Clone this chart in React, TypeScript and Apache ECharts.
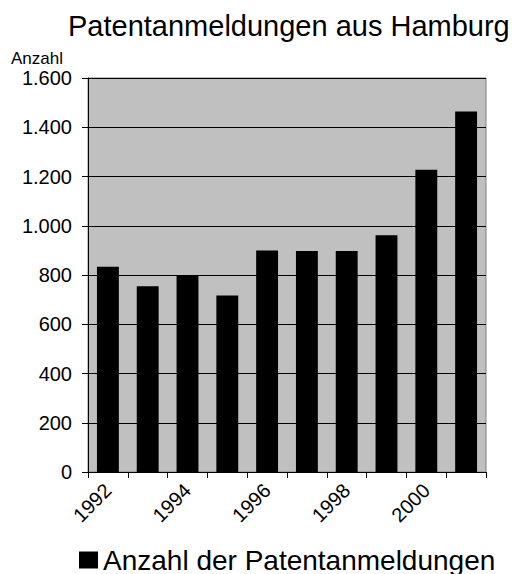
import React, { useEffect, useRef } from "react";
import * as echarts from "echarts";

const years = ["1992", "1993", "1994", "1995", "1996", "1997", "1998", "1999", "2000", "2001"];
const patentCounts = [833, 754, 797, 717, 900, 897, 897, 961, 1227, 1464];
const seriesName = "Anzahl der Patentanmeldungen";
const titleText = "Patentanmeldungen aus Hamburg";
const yAxisName = "Anzahl";

const fmtDe = (v: number) => {
  const s = String(Math.round(v));
  return s.replace(/\B(?=(\d{3})+(?!\d))/g, ".");
};

export default function App() {
  const ref = useRef<HTMLDivElement>(null);
  useEffect(() => {
    if (!ref.current) return;
    const chart = echarts.init(ref.current, undefined, { renderer: "svg" });
    const font = "Liberation Sans, Arial, sans-serif";
    chart.setOption({
      animation: false,
      backgroundColor: "#ffffff",
      textStyle: { fontFamily: font, color: "#000" },
      title: {
        text: titleText,
        left: 63,
        top: 6,
        textStyle: { fontSize: 29, fontWeight: "normal", color: "#000", fontFamily: font },
      },
      legend: {
        data: [seriesName],
        left: 79,
        top: 546,
        icon: "rect",
        itemWidth: 19,
        itemHeight: 17,
        padding: 0,
        textStyle: { fontSize: 28, color: "#000", fontFamily: font },
      },
      grid: {
        left: 88,
        right: 29,
        top: 78,
        bottom: 102,
        show: true,
        backgroundColor: "#c0c0c0",
        borderColor: "#808080",
        borderWidth: 1,
      },
      xAxis: {
        type: "category",
        data: years,
        boundaryGap: true,
        axisLine: { lineStyle: { color: "#000", width: 1 } },
        axisTick: { show: true, interval: 0, length: 6, alignWithLabel: false, lineStyle: { color: "#000" } },
        axisLabel: {
          interval: 1,
          rotate: 45,
          fontSize: 20,
          color: "#000",
          fontFamily: font,
          margin: 15,
        },
      },
      yAxis: {
        type: "value",
        min: 0,
        max: 1600,
        interval: 200,
        name: yAxisName,
        nameLocation: "end",
        nameGap: 11,
        nameTextStyle: { fontSize: 17, color: "#000", fontFamily: font, align: "right", padding: [0, 25, 0, 0] },
        axisLine: { show: true, lineStyle: { color: "#000", width: 1 } },
        axisTick: { show: true, length: 6, lineStyle: { color: "#000" } },
        axisLabel: { fontSize: 20, color: "#000", fontFamily: font, margin: 16, formatter: (v: number) => fmtDe(v) },
        splitLine: { show: true, lineStyle: { color: "#000", width: 1 } },
      },
      series: [
        {
          name: seriesName,
          type: "bar",
          data: patentCounts,
          barWidth: "55%",
          itemStyle: { color: "#000" },
        },
      ],
    });
    return () => chart.dispose();
  }, []);
  return <div ref={ref} style={{ position: "absolute", left: 0, top: 0, width: 515, height: 574 }} />;
}
